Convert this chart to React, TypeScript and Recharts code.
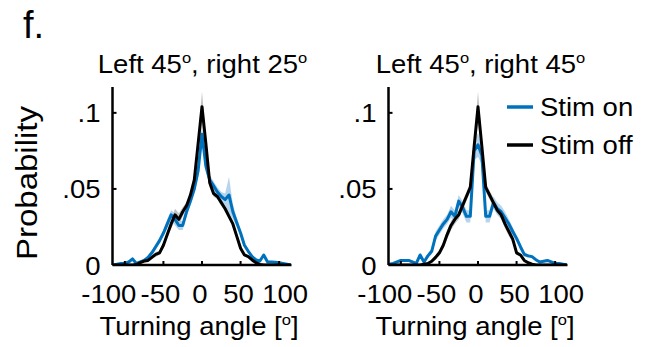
import { Area, ComposedChart, Label, Legend, Line, XAxis, YAxis } from 'recharts';

const FONT = '"Liberation Sans", Arial, Helvetica, sans-serif';
const SX = 1.1; // the figure's font runs a bit wider than Arial
const BLUE = '#0072BD';
const BLUE_BAND = '#a9cce8';
const GRAY_BAND = '#c4c4c4';

const W = 648;
const H = 347;
const PLOT_TOP = 87;
const PLOT_BOTTOM = 265;
const PLOT_W = 179;
const Y_AXIS_W = 60;

const angles = [
  -115, -110, -105, -100, -95, -90, -85, -80, -75, -70,
  -65, -60, -55, -50, -45, -40, -35, -30, -25, -20,
  -15, -10, -5, 0, 5, 10, 15, 20, 25, 30,
  35, 40, 45, 50, 55, 60, 65, 70, 75, 80,
  85, 90, 95, 100, 105, 110, 115,
];

const xTicks = [-100, -50, 0, 50, 100];
const yTicks = [0, 0.05, 0.1];
const yTickLabels: Record<string, string> = { '0': '0', '0.05': '.05', '0.1': '.1' };
const xTickShift: Record<string, number> = { '-100': -16, '-50': -3, '0': -2, '50': -2, '100': 6 };

const seriesNames = ['Stim on', 'Stim off'];

// left 45, right 25
const stimOnA = [
  0, 0.0005, 0.001, 0.001, 0.002, 0.004, 0.001, 0.002, 0.003, 0.005,
  0.008, 0.012, 0.016, 0.021, 0.027, 0.033, 0.03, 0.026, 0.026, 0.035,
  0.042, 0.05, 0.062, 0.086, 0.065, 0.056, 0.052, 0.048, 0.045, 0.043,
  0.046, 0.035, 0.028, 0.021, 0.013, 0.009, 0.0055, 0.0033, 0.0026, 0.0066,
  0.002, 0.002, 0.0018, 0.0015, 0.001, 0.0005, 0,
];
const stimOffA = [
  0, 0, 0, 0, 0, 0, 0.0003, 0.0015, 0.0026, 0.003,
  0.005, 0.007, 0.008, 0.013, 0.02, 0.027, 0.033, 0.03, 0.035, 0.039,
  0.046, 0.056, 0.08, 0.104, 0.08, 0.054, 0.047, 0.045, 0.041, 0.037,
  0.032, 0.027, 0.019, 0.011, 0.0066, 0.0055, 0.0033, 0.0015, 0.0004, 0,
  0, 0, 0, 0, 0, 0, 0,
];
const semOnA = [
  0, 0.0005, 0.0005, 0.0005, 0.001, 0.001, 0.0005, 0.0008, 0.001, 0.001,
  0.0015, 0.002, 0.002, 0.002, 0.003, 0.003, 0.004, 0.003, 0.003, 0.003,
  0.003, 0.003, 0.004, 0.006, 0.004, 0.003, 0.003, 0.003, 0.003, 0.004,
  0.012, 0.005, 0.003, 0.002, 0.002, 0.0015, 0.001, 0.001, 0.001, 0.001,
  0.0008, 0.0008, 0.0005, 0.0005, 0.0005, 0.0003, 0,
];
const semOffA = [
  0, 0, 0, 0, 0, 0, 0.0003, 0.0005, 0.0008, 0.001,
  0.0012, 0.0015, 0.0015, 0.002, 0.002, 0.003, 0.004, 0.004, 0.003, 0.002,
  0.002, 0.003, 0.005, 0.01, 0.005, 0.003, 0.002, 0.002, 0.002, 0.002,
  0.002, 0.002, 0.002, 0.0015, 0.001, 0.001, 0.0008, 0.0005, 0.0003, 0,
  0, 0, 0, 0, 0, 0, 0,
];

// left 45, right 45
const stimOnB = [
  0.0005, 0.001, 0.002, 0.003, 0.003, 0.003, 0.002, 0.001, 0.0066, 0.002,
  0.006, 0.009, 0.019, 0.023, 0.027, 0.03, 0.035, 0.032, 0.042, 0.038,
  0.032, 0.032, 0.075, 0.079, 0.072, 0.032, 0.032, 0.041, 0.037, 0.035,
  0.031, 0.027, 0.022, 0.0175, 0.012, 0.007, 0.006, 0.0055, 0.0035, 0.002,
  0.0025, 0.003, 0.002, 0.001, 0.001, 0.0005, 0,
];
const stimOffB = [
  0, 0, 0, 0, 0, 0, 0, 0, 0, 0.0005,
  0.001, 0.0025, 0.005, 0.008, 0.013, 0.02, 0.026, 0.03, 0.033, 0.039,
  0.045, 0.051, 0.078, 0.104, 0.078, 0.051, 0.046, 0.041, 0.036, 0.033,
  0.027, 0.022, 0.017, 0.008, 0.0066, 0.003, 0.0015, 0.0005, 0, 0,
  0, 0, 0, 0, 0, 0, 0,
];
const semOnB = [
  0.0003, 0.0005, 0.0008, 0.001, 0.001, 0.001, 0.0008, 0.0005, 0.001, 0.001,
  0.0015, 0.002, 0.003, 0.003, 0.003, 0.003, 0.004, 0.004, 0.004, 0.004,
  0.004, 0.004, 0.006, 0.008, 0.006, 0.004, 0.004, 0.004, 0.004, 0.004,
  0.004, 0.003, 0.003, 0.002, 0.002, 0.0015, 0.001, 0.001, 0.001, 0.0008,
  0.0008, 0.0008, 0.0005, 0.0005, 0.0005, 0.0003, 0,
];
const semOffB = [
  0, 0, 0, 0, 0, 0, 0, 0, 0, 0.0003,
  0.0005, 0.001, 0.0015, 0.002, 0.002, 0.003, 0.003, 0.003, 0.003, 0.003,
  0.003, 0.003, 0.005, 0.01, 0.005, 0.003, 0.003, 0.003, 0.003, 0.003,
  0.003, 0.003, 0.002, 0.0015, 0.001, 0.001, 0.0008, 0.0003, 0, 0,
  0, 0, 0, 0, 0, 0, 0,
];

const buildRows = (on: number[], off: number[], semOn: number[], semOff: number[]) =>
  angles.map((angle, i) => ({
    angle,
    on: on[i],
    off: off[i],
    onBand: [Math.max(0, on[i] - semOn[i]), on[i] + semOn[i]],
    offBand: [Math.max(0, off[i] - semOff[i]), off[i] + semOff[i]],
  }));

// small raised "o" used for degrees, followed by the rest of the text on the baseline
const sup = (after: string) => [
  <tspan key="s" fontSize={15} dy={-10}>
    o
  </tspan>,
  <tspan key="a" dy={10}>
    {after}
  </tspan>,
];

const XTick = ({ x, y, payload }: any) => (
  <g>
    <line x1={x} x2={x} y1={y} y2={y - 4} stroke="#000" strokeWidth={2} />
    <text
      transform={`translate(${x + (xTickShift[String(payload.value)] ?? 0)},${y + 38}) scale(${SX},1)`}
      textAnchor="middle"
      fontSize={25}
      fontFamily={FONT}
      fill="#000"
    >
      {payload.value}
    </text>
  </g>
);

const YTick = ({ x, y, payload }: any) => (
  <g>
    <line x1={x} x2={x + 4} y1={y} y2={y} stroke="#000" strokeWidth={2} />
    <text
      transform={`translate(${x - 12},${y + 9 + (payload.value === 0 ? 1 : 0)}) scale(${SX},1)`}
      textAnchor="end"
      fontSize={25}
      fontFamily={FONT}
      fill="#000"
    >
      {yTickLabels[String(payload.value)]}
    </text>
  </g>
);

const XLabel = ({ viewBox }: any) => (
  <text
    transform={`translate(${viewBox.x + viewBox.width / 2 - 3},335) scale(${SX},1)`}
    textAnchor="middle"
    fontSize={25}
    fontFamily={FONT}
    fill="#000"
  >
    <tspan>Turning angle [</tspan>
    {sup(']')}
  </text>
);

const YLabel = () => (
  <text
    transform={`translate(37,183) rotate(-90) scale(${SX},1)`}
    textAnchor="middle"
    fontSize={30}
    fontFamily={FONT}
    fill="#000"
  >
    Probability
  </text>
);

const LegendBox = ({ payload }: any) => {
  const items = seriesNames
    .map((name) => (payload || []).find((p: any) => p.value === name))
    .filter(Boolean);
  return (
    <svg width={140} height={60} style={{ display: 'block', overflow: 'visible' }}>
      {items.map((p: any, i: number) => (
        <g key={p.value}>
          <line x1={2} x2={28} y1={12 + i * 38} y2={12 + i * 38} stroke={p.color} strokeWidth={3.5} />
          <text
            transform={`translate(35,${21 + i * 38}) scale(${SX},1)`}
            fontSize={25}
            fontFamily={FONT}
            fill="#000"
          >
            {p.value}
          </text>
        </g>
      ))}
    </svg>
  );
};

interface PanelProps {
  rows: ReturnType<typeof buildRows>;
  plotLeft: number;
  showYLabel?: boolean;
  showLegend?: boolean;
}

const Panel = ({ rows, plotLeft, showYLabel, showLegend }: PanelProps) => (
  <div style={{ position: 'absolute', left: 0, top: 0 }}>
    <ComposedChart
      width={W}
      height={H}
      data={rows}
      margin={{
        top: PLOT_TOP,
        right: W - plotLeft - PLOT_W,
        left: plotLeft - Y_AXIS_W,
        bottom: 0,
      }}
    >
      <XAxis
        dataKey="angle"
        type="number"
        domain={[-116, 116]}
        ticks={xTicks}
        interval={0}
        height={H - PLOT_BOTTOM}
        tickSize={0}
        tickMargin={0}
        tickLine={false}
        axisLine={{ stroke: '#000', strokeWidth: 2.5 }}
        tick={<XTick />}
        allowDataOverflow
      >
        <Label content={<XLabel />} />
      </XAxis>
      <YAxis
        type="number"
        domain={[0, 0.117]}
        ticks={yTicks}
        interval={0}
        width={Y_AXIS_W}
        tickSize={0}
        tickMargin={0}
        tickLine={false}
        axisLine={{ stroke: '#000', strokeWidth: 2.5 }}
        tick={<YTick />}
        allowDataOverflow
      >
        {showYLabel && <Label content={<YLabel />} />}
      </YAxis>
      <Area
        type="linear"
        dataKey="offBand"
        stroke="none"
        fill={GRAY_BAND}
        fillOpacity={1}
        legendType="none"
        isAnimationActive={false}
      />
      <Area
        type="linear"
        dataKey="onBand"
        stroke="none"
        fill={BLUE_BAND}
        fillOpacity={0.85}
        legendType="none"
        isAnimationActive={false}
      />
      <Line
        type="linear"
        dataKey="on"
        name="Stim on"
        stroke={BLUE}
        strokeWidth={3}
        dot={false}
        strokeLinejoin="round"
        isAnimationActive={false}
      />
      <Line
        type="linear"
        dataKey="off"
        name="Stim off"
        stroke="#000"
        strokeWidth={3}
        dot={false}
        strokeLinejoin="round"
        isAnimationActive={false}
      />
      {showLegend && (
        <Legend
          layout="vertical"
          align="center"
          verticalAlign="middle"
          content={<LegendBox />}
          wrapperStyle={{ left: 505, top: 95, width: 140, height: 60 }}
        />
      )}
    </ComposedChart>
  </div>
);

const Title = ({ cx, right }: { cx: number; right: string }) => (
  <text
    transform={`translate(${cx},73) scale(${SX},1)`}
    textAnchor="middle"
    fontSize={25}
    fontFamily={FONT}
    fill="#000"
  >
    <tspan>Left 45</tspan>
    {sup(`, right ${right}`)}
    <tspan fontSize={15} dy={-10}>
      o
    </tspan>
  </text>
);

const App = () => {
  const rowsA = buildRows(stimOnA, stimOffA, semOnA, semOffA);
  const rowsB = buildRows(stimOnB, stimOffB, semOnB, semOffB);
  return (
    <div style={{ position: 'relative', width: W, height: H, background: '#fff' }}>
      <style>{'body{margin:0}'}</style>
      <Panel rows={rowsA} plotLeft={112.5} showYLabel />
      <Panel rows={rowsB} plotLeft={388.5} showLegend />
      <svg
        width={W}
        height={H}
        style={{ position: 'absolute', left: 0, top: 0, pointerEvents: 'none' }}
      >
        <text x={23} y={38} fontSize={38} fontFamily={FONT} fill="#000">
          f.
        </text>
        <Title cx={202.5} right="25" />
        <Title cx={480.5} right="45" />
      </svg>
    </div>
  );
};

export default App;
